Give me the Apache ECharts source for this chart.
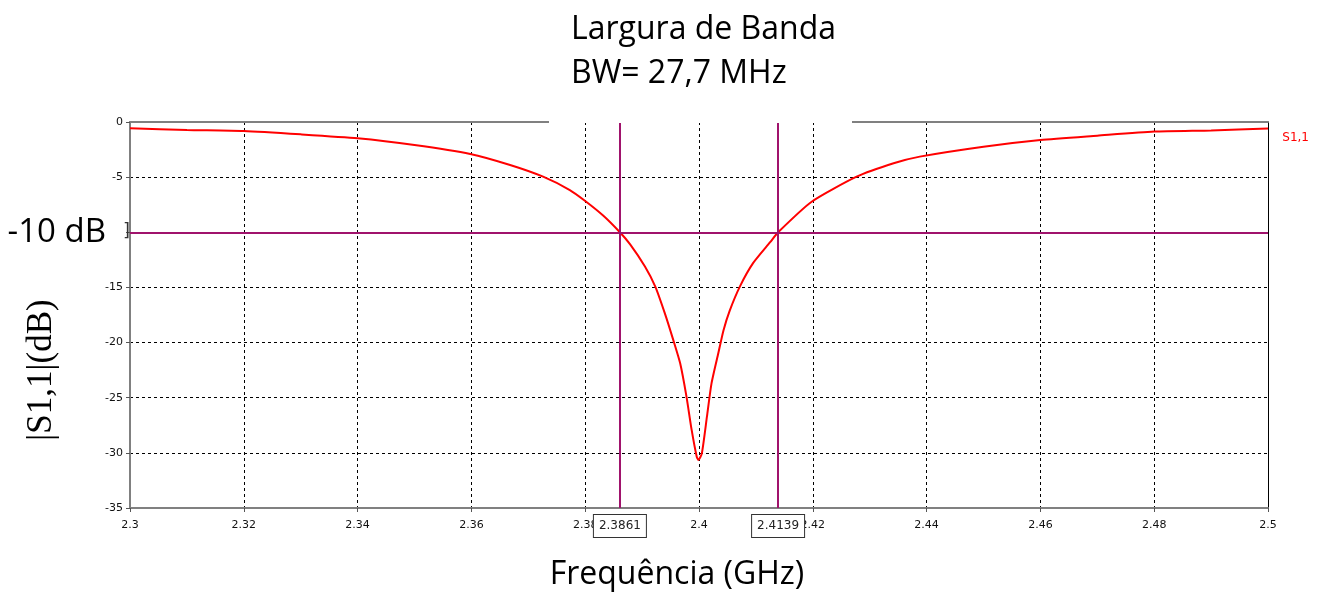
<!DOCTYPE html>
<html>
<head>
<meta charset="utf-8">
<title>Largura de Banda</title>
<script src="https://cdn.jsdelivr.net/npm/echarts@6/dist/echarts.min.js"></script>
<style>
    html, body { margin: 0; padding: 0; background: #fff; }
    #chart { width: 1322px; height: 594px; }
</style>
</head>
<body>
<div id="chart"></div>
<script>
// frequência (GHz)
var freqs = [2.30, 2.31, 2.32, 2.33, 2.34, 2.35, 2.3598, 2.3668, 2.3726, 2.3773, 2.38, 2.3832,
    2.3861, 2.3879, 2.3905, 2.3923, 2.394, 2.3955, 2.3967, 2.3978, 2.3987, 2.3996, 2.3999,
    2.4005, 2.4014, 2.4022, 2.4034, 2.4043, 2.4054, 2.4072, 2.4095, 2.4125, 2.4139,
    2.4198, 2.4277, 2.4342, 2.4388, 2.45, 2.46, 2.47, 2.48, 2.49, 2.50];
// |S1,1| (dB)
var s11 = [-0.57, -0.72, -0.82, -1.12, -1.48, -2.09, -2.9, -3.9, -4.96, -6.17, -7.16, -8.5,
    -10, -11.1, -13.1, -14.9, -17.35, -19.8, -21.9, -24.9, -27.9, -30.35, -30.65,
    -30.05, -26.7, -23.7, -20.95, -18.9, -17.1, -14.9, -12.8, -10.9, -10,
    -7.23, -4.96, -3.74, -3.14, -2.24, -1.63, -1.24, -0.87, -0.76, -0.6];
// marcadores
var markerFreqs = [2.3861, 2.4139];
var markerLevel = -10;

var myChart = echarts.init(document.getElementById('chart'));

var seriesData = [];
for (var i = 0; i < freqs.length; i++) {
    seriesData.push([freqs[i], s11[i]]);
}

var purple = '#a0136c';
var markLines = [];
for (var j = 0; j < markerFreqs.length; j++) {
    markLines.push([{
        coord: [markerFreqs[j], -35],
        label: {
            show: true,
            position: 'start',
            distance: 7,
            formatter: String(markerFreqs[j]),
            color: '#222',
            fontFamily: 'DejaVu Sans',
            fontSize: 12,
            backgroundColor: '#fff',
            borderColor: '#333',
            borderWidth: 1,
            padding: [5, 5, 5, 5]
        }
    }, {
        coord: [markerFreqs[j], 0]
    }]);
}
markLines.push([{
    coord: [2.3, markerLevel],
    label: {
        show: true,
        position: 'start',
        distance: 24,
        formatter: '-10 dB',
        color: '#000',
        fontFamily: 'Open Sans',
        fontSize: 33
    }
}, {
    coord: [2.5, markerLevel]
}]);

var tickFont = { color: '#111', fontFamily: 'DejaVu Sans', fontSize: 11 };

var option = {
    animation: false,
    title: {
        text: 'Largura de Banda\nBW= 27,7 MHz',
        left: 566,
        top: 3,
        z: 20,
        textStyle: {
            color: '#000',
            fontFamily: 'Open Sans',
            fontWeight: 'normal',
            fontSize: 32,
            lineHeight: 44
        }
    },
    legend: {
        data: ['S1,1'],
        right: 8,
        top: 126,
        icon: 'none',
        itemWidth: 0,
        itemGap: 0,
        textStyle: { color: '#ff0000', fontFamily: 'DejaVu Sans', fontSize: 12 }
    },
    grid: { left: 130, right: 54, top: 122, bottom: 86, outerBoundsMode: 'none', containLabel: false },
    xAxis: [{
        type: 'value',
        min: 2.3,
        max: 2.5,
        interval: 0.02,
        axisLine: { onZero: false, lineStyle: { color: '#808080', width: 2 } },
        axisTick: { show: true, length: 4, lineStyle: { color: '#555' } },
        axisLabel: Object.assign({ margin: 12, formatter: function(v) { return String(+v.toFixed(2)); } }, tickFont),
        splitLine: { show: true, lineStyle: { color: '#000', type: [3, 3], width: 1 } }
    }, {
        type: 'value',
        position: 'top',
        min: 2.3,
        max: 2.5,
        axisLine: { show: true, lineStyle: { color: '#808080', width: 2 } },
        axisTick: { show: false },
        axisLabel: { show: false },
        splitLine: { show: false }
    }],
    yAxis: [{
        type: 'value',
        min: -35,
        max: 0,
        interval: 5,
        axisLine: { show: true, onZero: false, lineStyle: { color: '#808080', width: 2 } },
        axisTick: { show: true, length: 4, lineStyle: { color: '#555' } },
        axisLabel: Object.assign({
            margin: 7,
            formatter: function(v) { return v === -10 ? '' : String(v); }
        }, tickFont),
        splitLine: { show: true, lineStyle: { color: '#000', type: [3, 3], width: 1 } }
    }, {
        type: 'value',
        position: 'right',
        min: -35,
        max: 0,
        axisLine: { show: true, lineStyle: { color: '#000', width: 1 } },
        axisTick: { show: false },
        axisLabel: { show: false },
        splitLine: { show: false }
    }],
    graphic: [{
        // caixa branca do título por cima da borda
        type: 'rect',
        z: 10,
        shape: { x: 549, y: 0, width: 303, height: 123 },
        style: { fill: '#fff' }
    }, {
        type: 'text',
        z: 10,
        x: 677,
        y: 575,
        style: {
            text: 'Frequência (GHz)',
            fill: '#000',
            font: '32px "Open Sans"',
            textAlign: 'center',
            textVerticalAlign: 'middle'
        }
    }, {
        type: 'text',
        z: 10,
        x: 42,
        y: 370,
        rotation: Math.PI / 2,
        style: {
            text: '|S1,1|(dB)',
            fill: '#000',
            font: '35px "Liberation Serif"',
            textAlign: 'center',
            textVerticalAlign: 'middle'
        }
    }, {
        type: 'text',
        z: 10,
        x: 123,
        y: 231,
        style: {
            text: ']',
            fill: '#333',
            font: '18px "DejaVu Sans"',
            textAlign: 'left',
            textVerticalAlign: 'middle'
        }
    }],
    series: [{
        name: 'S1,1',
        type: 'line',
        data: seriesData,
        showSymbol: false,
        smooth: 0.2,
        lineStyle: { color: '#ff0000', width: 2 },
        itemStyle: { color: '#ff0000' },
        markLine: {
            silent: true,
            symbol: 'none',
            lineStyle: { color: purple, width: 2, type: 'solid' },
            data: markLines
        }
    }]
};

myChart.setOption(option);
</script>
</body>
</html>
